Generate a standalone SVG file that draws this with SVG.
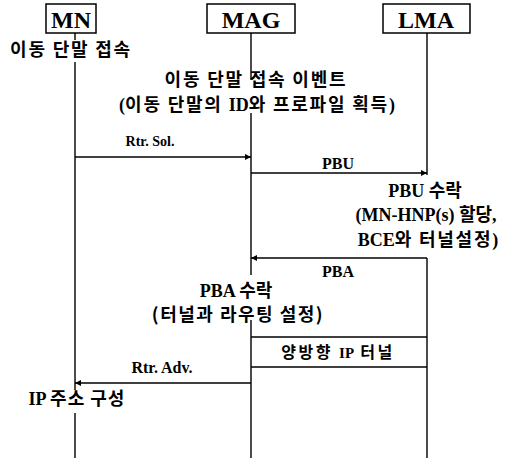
<svg xmlns="http://www.w3.org/2000/svg" width="509" height="458" viewBox="0 0 509 458">
<defs>
<style>
.box{fill:#fff;stroke:#000;stroke-width:1.5}
.life{stroke:#000;stroke-width:1.4;fill:none}
.msg{stroke:#000;stroke-width:1.5;fill:none}
.t{font-family:"Liberation Serif","Noto Sans CJK KR",serif;font-weight:bold;fill:#000;text-anchor:middle;font-size:18px}
.k{font-family:"Noto Sans CJK KR","Liberation Serif",sans-serif;font-weight:600;font-size:18px}
.h{font-size:24px}
.w1{letter-spacing:1px}
.w2{letter-spacing:1.8px}
.w3{letter-spacing:2.5px}
</style>
<marker id="ah" viewBox="0 0 10 10" refX="10" refY="5" markerWidth="9" markerHeight="6" markerUnits="userSpaceOnUse" orient="auto">
<path d="M0,0 L10,5 L0,10 z" fill="#000"/>
</marker>
</defs>
<rect width="509" height="458" fill="#fff"/>
<g id="MN">
<rect class="box" x="46" y="4" width="50" height="29"/>
<text class="t h" x="71" y="28">MN</text>
</g>
<g id="MAG">
<rect class="box" x="207" y="4" width="88" height="29"/>
<text class="t h" x="251" y="28">MAG</text>
</g>
<g id="LMA">
<rect class="box" x="383" y="4" width="87" height="29"/>
<text class="t h" x="426" y="28">LMA</text>
</g>
<g id="connectors">
<path class="life" d="M75,33 V40 M75,62 V390 M75,413 V458"/>
<path class="life" d="M251,33 V80 M251,113 V275 M251,320 V458"/>
<path class="life" d="M427,33 V175 M427,258 V458"/>
<line class="msg" x1="75" y1="157" x2="251" y2="157" marker-end="url(#ah)"/>
<line class="msg" x1="251" y1="173" x2="427" y2="173" marker-end="url(#ah)"/>
<line class="msg" x1="427" y1="258" x2="251" y2="258" marker-end="url(#ah)"/>
<line class="msg" x1="251" y1="383" x2="75" y2="383" marker-end="url(#ah)"/>
<line class="msg" x1="251" y1="337" x2="427" y2="337"/>
<line class="msg" x1="251" y1="367" x2="427" y2="367"/>
</g>
<g id="labels">
<text class="t k w2" x="71" y="56">이동 단말 접속</text>
<text class="t k w2" x="256" y="86">이동 단말 접속 이벤트</text>
<text class="t" x="257" y="111">(<tspan class="k w2">이동 단말의 </tspan>ID<tspan class="k w2">와 프로파일 획득</tspan>)</text>
<text class="t" x="150" y="146" style="font-size:14px">Rtr. Sol.</text>
<text class="t" x="338" y="169" style="font-size:16px">PBU</text>
<text class="t" x="425" y="197">PBU <tspan class="k">수락</tspan></text>
<text class="t" x="426" y="221">(MN-HNP(s) <tspan class="k">할당</tspan>,</text>
<text class="t" x="428" y="246">BCE<tspan class="k w2">와 터널설정</tspan>)</text>
<text class="t" x="338" y="277" style="font-size:16px">PBA</text>
<text class="t" x="236" y="297">PBA <tspan class="k">수락</tspan></text>
<text class="t k" x="238" y="321" style="letter-spacing:1.5px">(터널과 라우팅 설정)</text>
<text class="t" x="338" y="358" style="font-size:15px"><tspan class="k w3" style="font-size:16px">양방향 </tspan>IP<tspan class="k w3" style="font-size:16px"> 터널</tspan></text>
<text class="t" x="162" y="373" style="font-size:16px">Rtr. Adv.</text>
<text class="t" x="77" y="405">IP <tspan class="k w1">주소 구성</tspan></text>
</g>
</svg>
